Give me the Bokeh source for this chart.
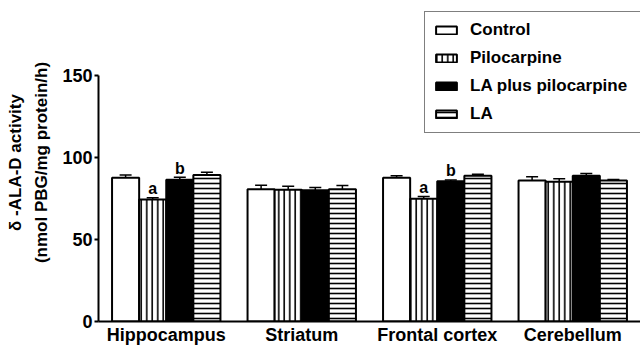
from bokeh.plotting import figure
from bokeh.models import (ColumnDataSource, FactorRange, Range1d, Whisker, TeeHead,
                          Legend, LegendItem, FixedTicker)
from bokeh.transform import dodge
from bokeh.core.properties import value
from bokeh.embed import file_html
from bokeh.resources import INLINE

regions = ["Hippocampus", "Striatum", "Frontal cortex", "Cerebellum"]
treatments = ["Control", "Pilocarpine", "LA plus pilocarpine", "LA"]

control = [87.6, 80.7, 87.6, 86.0]
control_err = [1.8, 2.4, 1.2, 2.2]
pilocarpine = [74.4, 80.3, 74.8, 85.2]
pilocarpine_err = [1.0, 2.1, 1.4, 1.8]
la_pilocarpine = [86.4, 80.1, 85.5, 88.8]
la_pilocarpine_err = [1.6, 1.6, 0.8, 1.4]
la = [89.4, 80.7, 88.8, 86.0]
la_err = [1.6, 2.2, 1.0, 0.6]

pilocarpine_marks = ["a", "", "a", ""]
la_pilocarpine_marks = ["b", "", "b", ""]
no_marks = ["", "", "", ""]

y_ticks = [0, 50, 100, 150]

FONT = "Liberation Sans"

# frame: top at 3px, bottom at 321px; axis 0..150 occupies the lower 246 px
FRAME_TOP, FRAME_BOTTOM, AXIS_PX = 3, 321, 246
y_end = max(y_ticks) * (FRAME_BOTTOM - FRAME_TOP) / AXIS_PX

p = figure(x_range=FactorRange(factors=regions, range_padding=0),
           y_range=Range1d(0, y_end),
           width=640, height=347, output_backend="svg", toolbar_location=None,
           min_border_left=98, min_border_right=0, min_border_top=FRAME_TOP,
           min_border_bottom=347 - FRAME_BOTTOM)
p.outline_line_color = None
p.xgrid.visible = False
p.ygrid.visible = False
p.background_fill_color = "white"
p.border_fill_color = "white"

series = [
    (treatments[0], control, control_err, no_marks, dict(fill_color="white")),
    (treatments[1], pilocarpine, pilocarpine_err, pilocarpine_marks,
     dict(fill_color="white", hatch_pattern="vertical_line", hatch_color="black",
          hatch_weight=1.6, hatch_scale=5.5)),
    (treatments[2], la_pilocarpine, la_pilocarpine_err, la_pilocarpine_marks,
     dict(fill_color="black")),
    (treatments[3], la, la_err, no_marks,
     dict(fill_color="white", hatch_pattern="horizontal_line", hatch_color="black",
          hatch_weight=1.6, hatch_scale=5)),
]
offsets = [-0.3, -0.1, 0.1, 0.3]

items = []
for (name, vals, errs, marks, style), off in zip(series, offsets):
    src = ColumnDataSource(dict(region=regions, val=vals,
                                upper=[v + e for v, e in zip(vals, errs)],
                                mark=marks))
    xs = dodge("region", off, range=p.x_range)
    r = p.vbar(x=xs, top="val", bottom=0, width=0.2, source=src,
               line_color="black", line_width=2, **style)
    items.append(LegendItem(label=name, renderers=[r]))
    w = Whisker(source=src, base=xs, upper="upper", lower="val",
                line_color="black", line_width=1.5,
                upper_head=TeeHead(size=12, line_color="black", line_width=1.5),
                lower_head=None)
    p.add_layout(w)
    p.text(x=xs, y="upper", text="mark", source=src, text_align="center",
           text_baseline="alphabetic", y_offset=-9,
           text_font=value(FONT), text_font_style="bold", text_font_size="16px",
           text_color="black")

legend = Legend(items=items, location=(326, 188), orientation="vertical",
                padding=8, spacing=8, margin=0,
                glyph_width=26, glyph_height=10, label_height=20, label_standoff=11,
                label_width=180,
                label_text_font=FONT, label_text_font_style="bold",
                label_text_font_size="17px", label_text_color="black",
                border_line_color="black", border_line_width=1,
                background_fill_color="white", background_fill_alpha=1)
p.add_layout(legend, "center")

# y axis
yax = p.yaxis[0]
yax.ticker = FixedTicker(ticks=y_ticks)
yax.bounds = (min(y_ticks), max(y_ticks))
yax.minor_tick_line_color = None
yax.major_tick_in = 0
yax.major_tick_out = 4
yax.major_tick_line_width = 2
yax.axis_line_width = 2
yax.major_label_standoff = 2
yax.major_label_text_font = FONT
yax.major_label_text_font_style = "bold"
yax.major_label_text_font_size = "18px"
yax.major_label_text_color = "black"
yax.axis_label = "δ -ALA-D activity\n(nmol PBG/mg protein/h)"
yax.axis_label_text_font = FONT
yax.axis_label_text_font_style = "bold"
yax.axis_label_text_font_size = "17px"
yax.axis_label_text_line_height = 1.4
yax.axis_label_text_color = "black"
yax.axis_label_standoff = 8

# x axis
xax = p.xaxis[0]
xax.major_tick_in = 0
xax.major_tick_out = 0
xax.axis_line_width = 2
xax.major_label_standoff = 3
xax.major_label_text_font = FONT
xax.major_label_text_font_style = "bold"
xax.major_label_text_font_size = "18px"
xax.major_label_text_color = "black"

open("out.html", "w").write(file_html(p, INLINE))
